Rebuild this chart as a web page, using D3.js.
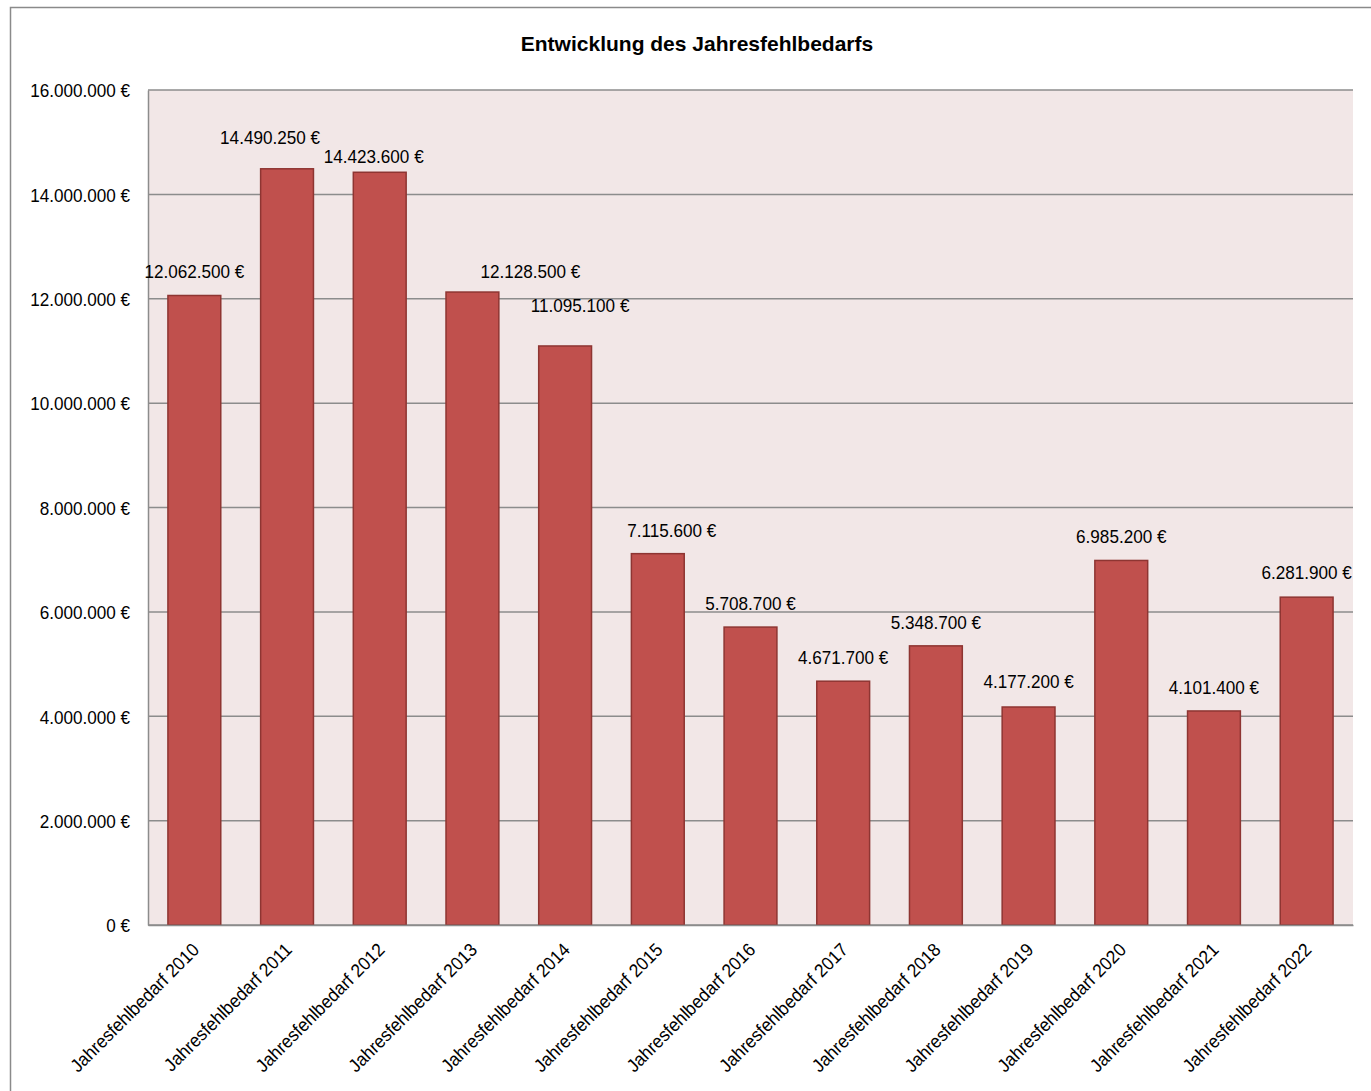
<!DOCTYPE html>
<html><head><meta charset="utf-8">
<script src="https://cdn.jsdelivr.net/npm/d3@7"></script>
<style>body{margin:0;background:#fff;} text{font-family:"Liberation Sans",Arial,sans-serif;}</style>
</head><body>
<svg id="c" width="1371" height="1091"></svg>
<script>
const categories = ["Jahresfehlbedarf 2010","Jahresfehlbedarf 2011","Jahresfehlbedarf 2012","Jahresfehlbedarf 2013","Jahresfehlbedarf 2014","Jahresfehlbedarf 2015","Jahresfehlbedarf 2016","Jahresfehlbedarf 2017","Jahresfehlbedarf 2018","Jahresfehlbedarf 2019","Jahresfehlbedarf 2020","Jahresfehlbedarf 2021","Jahresfehlbedarf 2022"];
const values = [12062500,14490250,14423600,12128500,11095100,7115600,5708700,4671700,5348700,4177200,6985200,4101400,6281900];
const yTicks = [0,2000000,4000000,6000000,8000000,10000000,12000000,14000000,16000000];
const title = "Entwicklung des Jahresfehlbedarfs";

// layout nudges for value labels (dx, dy) as placed in the original
const labelNudge = [[0,0],[-17,-8],[-6,8],[58,3],[15,-17],[14,0],[0,0],[0,0],[0,0],[0,-2],[0,0],[0,0],[0,-1]];

const svg = d3.select("#c");
const M = {l:148, t:90, r:1353, b:925};
const fmt = v => {
  const s = Math.round(v).toString().replace(/\B(?=(\d{3})+(?!\d))/g, ".");
  return s + " €";
};
function condense(sel, f){
  sel.each(function(){
    const w = this.getComputedTextLength();
    d3.select(this).attr("textLength", w*f).attr("lengthAdjust","spacingAndGlyphs");
  });
}

svg.append("rect").attr("x",10.5).attr("y",7.5).attr("width",1400).attr("height",1100)
  .attr("fill","#fff").attr("stroke","#8a8a8a").attr("stroke-width",1.5);

const x = d3.scaleBand().domain(categories).range([M.l,M.r]).paddingInner(0.43).paddingOuter(0.215);
const y = d3.scaleLinear().domain([0,16000000]).range([M.b,M.t]);

svg.append("rect").attr("x",M.l).attr("y",M.t).attr("width",M.r-M.l).attr("height",M.b-M.t)
  .attr("fill","#f2e7e7");

// gridlines
svg.append("g").selectAll("line").data(yTicks).join("line")
  .attr("x1",M.l).attr("x2",M.r).attr("y1",d=>y(d)).attr("y2",d=>y(d))
  .attr("stroke","#8c8c8c").attr("stroke-width",1.5);

// y axis
const yAxis = svg.append("g").attr("transform",`translate(${M.l},0)`)
  .call(d3.axisLeft(y).tickValues(yTicks).tickFormat(fmt).tickSize(0).tickPadding(18));
yAxis.select(".domain").attr("stroke","#8c8c8c").attr("stroke-width",1.5);
yAxis.selectAll("text").attr("font-size","19px").attr("fill","#000")
  .attr("font-family","Liberation Sans, Arial, sans-serif").attr("dy","0.36em");
condense(yAxis.selectAll("text"), 0.9);

// bars
svg.append("g").selectAll("rect").data(values).join("rect")
  .attr("x",(d,i)=>x(categories[i])).attr("width",x.bandwidth())
  .attr("y",d=>y(d)).attr("height",d=>y(0)-y(d))
  .attr("fill","#c0504d").attr("stroke","#8e3532").attr("stroke-width",1.5);

// x axis
const xAxis = svg.append("g").attr("transform",`translate(0,${M.b})`)
  .call(d3.axisBottom(x).tickSize(0).tickPadding(0));
xAxis.select(".domain").attr("stroke","#8c8c8c").attr("stroke-width",1.5);
xAxis.selectAll("text").attr("font-size","18.5px").attr("fill","#000")
  .attr("font-family","Liberation Sans, Arial, sans-serif")
  .attr("text-anchor","end").attr("dy",0)
  .attr("transform","translate(6,26) rotate(-45)");
condense(xAxis.selectAll("text"), 0.94);

// value labels
const vl = svg.append("g").selectAll("text").data(values).join("text")
  .attr("x",(d,i)=>x(categories[i])+x.bandwidth()/2+labelNudge[i][0])
  .attr("y",(d,i)=>y(d)-17+labelNudge[i][1])
  .attr("text-anchor","middle").attr("font-size","19px")
  .attr("fill","#000").text(d=>fmt(d));
condense(vl, 0.9);

svg.append("text").attr("x",697).attr("y",51).attr("text-anchor","middle")
  .attr("font-size","21px").attr("font-weight","bold").text(title);
</script>
</body></html>
